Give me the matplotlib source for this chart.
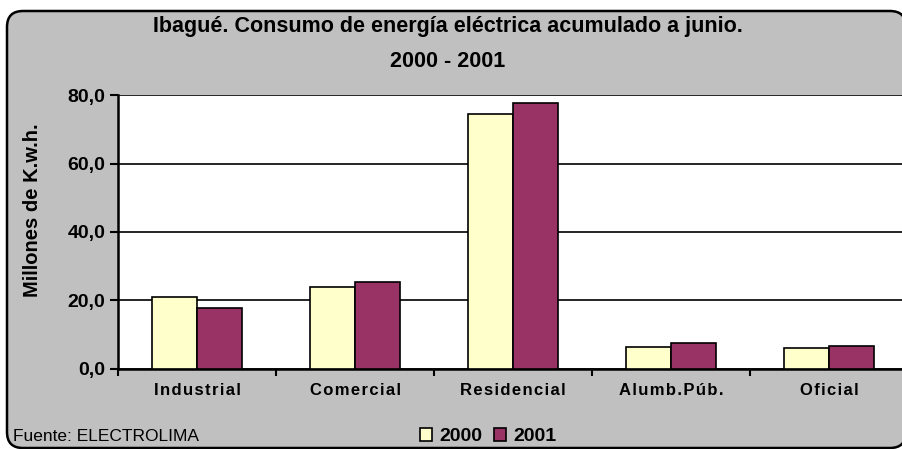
import matplotlib.pyplot as plt
import matplotlib.patches as mpatches
import numpy as np

plt.rcParams['font.family'] = ['Liberation Sans', 'DejaVu Sans']

# consumo acumulado a junio, millones de kWh
categorias = ['Industrial', 'Comercial', 'Residencial', 'Alumb.Púb.', 'Oficial']
consumo_2000 = [21.1, 24.0, 74.5, 6.3, 6.2]
consumo_2001 = [17.7, 25.5, 77.8, 7.5, 6.8]
y_ticks = [0, 20, 40, 60, 80]

HAIR = '\u200a'

fig = plt.figure(figsize=(9.03, 4.49), dpi=100)

# marco gris redondeado de fondo (en pixeles)
marco = mpatches.FancyBboxPatch((7, 1), 899, 437,
                                boxstyle='round,pad=0,rounding_size=16',
                                facecolor='#C0C0C0', edgecolor='black',
                                linewidth=1.8, transform=None, zorder=-10)
fig.patches.append(marco)

ax = fig.add_axes([0.1307, 0.1782, 0.8748, 0.6102])
ax.set_facecolor('white')

x = np.arange(len(categorias))
w = 0.285
ax.bar(x - w / 2, consumo_2000, w, color='#FFFFCC', edgecolor='black',
       linewidth=1.2, label='2000', zorder=3)
ax.bar(x + w / 2, consumo_2001, w, color='#993366', edgecolor='black',
       linewidth=1.2, label='2001', zorder=3)

ax.set_xlim(-0.5, len(categorias) - 0.5)
ax.set_ylim(0, 80)
ax.set_yticks(y_ticks)
ax.set_yticklabels([f'{v:.1f}'.replace('.', ',') for v in y_ticks],
                   fontsize=14, fontweight='bold')
ax.yaxis.grid(True, color='black', linewidth=1.2, zorder=1)
ax.set_axisbelow(True)

# ticks del eje x en los limites de cada categoria
ax.set_xticks(np.arange(-0.5, len(categorias) + 0.5, 1))
ax.set_xticklabels([])
ax.set_xticks(x, minor=True)
espaciadas = [HAIR.join(c) for c in categorias]
ax.set_xticklabels(espaciadas, minor=True, fontsize=12, fontweight='bold')
ax.tick_params(axis='x', which='minor', length=0, pad=10)
ax.tick_params(axis='x', which='major', length=5, width=1.5, direction='out')
ax.tick_params(axis='y', length=6, width=1.5, direction='out', pad=3)

for s in ['top', 'right']:
    ax.spines[s].set_visible(False)
for s in ['left', 'bottom']:
    ax.spines[s].set_linewidth(1.8)

ax.set_ylabel('Millones de K.w.h.', fontsize=14.5, fontweight='bold')
ax.yaxis.set_label_coords(-0.096, 0.58)

fig.text(0.496, 0.94, 'Ibagué. Consumo de energía eléctrica acumulado a junio.',
         ha='center', va='center', fontsize=15.5, fontweight='bold')
fig.text(0.496, 0.862, '2000 - 2001', ha='center', va='center',
         fontsize=15.5, fontweight='bold')

fig.text(0.014, 0.027, 'Fuente: ELECTROLIMA', ha='left', va='center', fontsize=12.5)

fig.legend(loc='center', bbox_to_anchor=(0.541, 0.027), ncol=2, frameon=False,
           prop={'weight': 'bold', 'size': 14}, handlelength=0.6,
           handleheight=0.6, handletextpad=0.4, columnspacing=0.6)

fig.savefig('out.png', dpi=100)
